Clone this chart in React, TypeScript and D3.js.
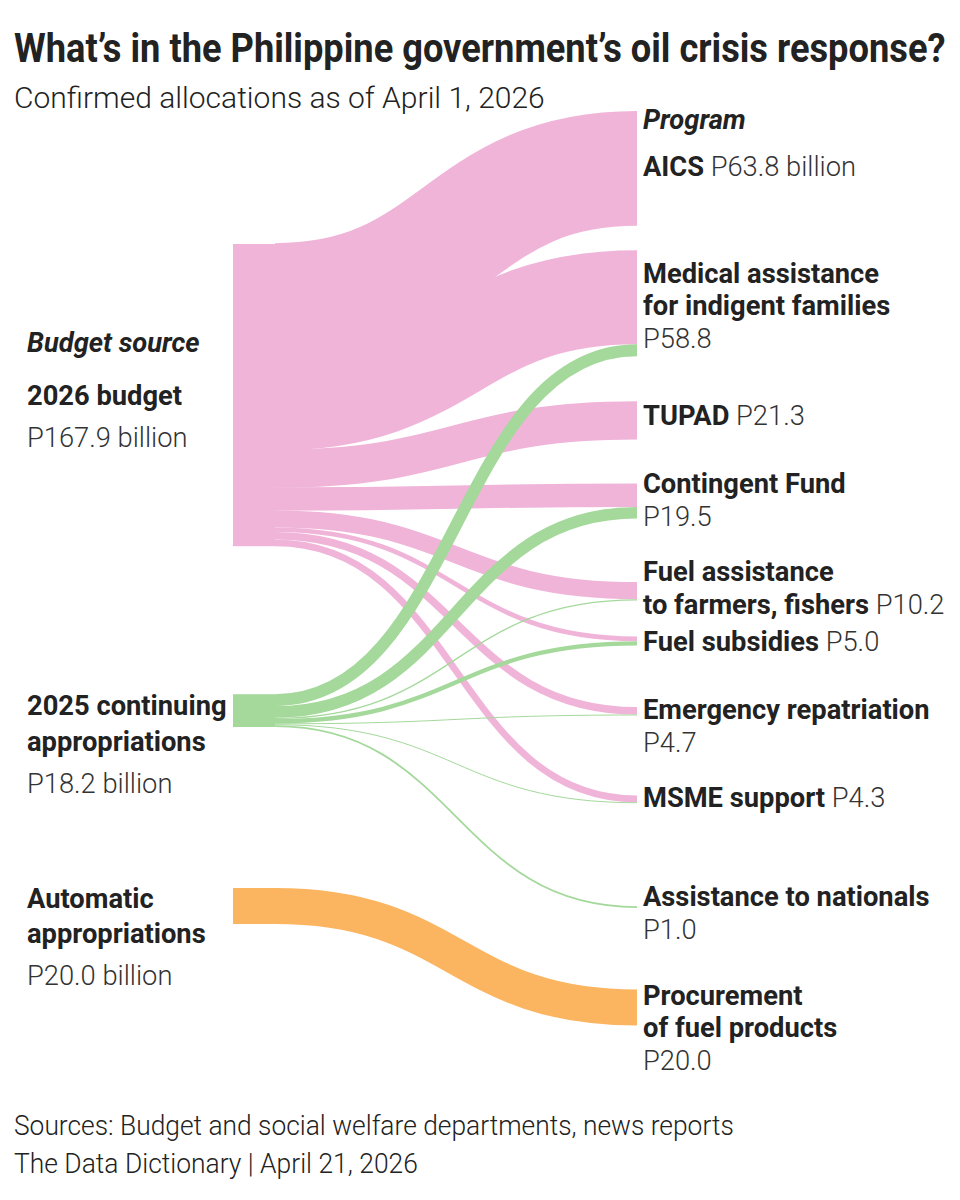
import React, { useLayoutEffect, useRef, useState } from "react";
import * as d3 from "d3";

// budget sources (left column)
const sources = ["2026 budget", "2025 continuing appropriations", "Automatic appropriations"];
const sourceValues = [167.9, 18.2, 20.0];
const sourceLines = [["2026 budget"], ["2025 continuing", "appropriations"], ["Automatic", "appropriations"]];

// programs (right column)
const programs = [
  "AICS",
  "Medical assistance for indigent families",
  "TUPAD",
  "Contingent Fund",
  "Fuel assistance to farmers, fishers",
  "Fuel subsidies",
  "Emergency repatriation",
  "MSME support",
  "Assistance to nationals",
  "Procurement of fuel products",
];
const programValues = [63.8, 58.8, 21.3, 19.5, 10.2, 5.0, 4.7, 4.3, 1.0, 20.0];
const programLines = [
  ["AICS"],
  ["Medical assistance", "for indigent families"],
  ["TUPAD"],
  ["Contingent Fund"],
  ["Fuel assistance", "to farmers, fishers"],
  ["Fuel subsidies"],
  ["Emergency repatriation"],
  ["MSME support"],
  ["Assistance to nationals"],
  ["Procurement", "of fuel products"],
];
// value printed on the last name line (true) or on its own line (false)
const valueInline = [true, false, true, false, true, true, false, true, false, false];

// flows, one array per source, indexed like programs
const from2026Budget = [63.8, 52.2, 21.3, 13.0, 9.5, 2.6, 4.2, 3.8, 0, 0];
const from2025Continuing = [0, 6.6, 0, 6.5, 0.7, 2.4, 0.5, 0.5, 1.0, 0];
const fromAutomatic = [0, 0, 0, 0, 0, 0, 0, 0, 0, 20.0];

const colors = ["#f0b4d9", "#a4d99b", "#fbb561"];
const INK = "#222";
const SOFT = "#333";
const FONT = "Roboto, 'Noto Sans', sans-serif";
const LABEL_SIZE = 27.3;

const W = 960;
const H = 1200;
const TOP = 110;
const NODE_X0 = 233;
const NODE_X1 = 275;
const TARGET_X = 637;
const LEFT_TEXT = 27;
const RIGHT_TEXT = 643;

// spacing before each node, stacked from TOP
const SOURCE_GAPS = [134, 148, 161];
const TARGET_GAPS = [1, 24.5, 45, 44, 63.5, 36, 61.5, 80, 103, 81.5];
// first label baseline relative to the node's middle
const SOURCE_DY = [10, 4.5, 2];
const TARGET_DY = [7.6, -20.6, 4.7, -7.7, -10.3, 9.7, 8.1, 8, -1, -2.5];

const thick = d3.scaleLinear().domain([0, 100]).range([0, 180]);

const fmt = (v: number) => `P${v.toFixed(1)}`;

function stack(values: number[], gaps: number[]) {
  let y = TOP;
  return values.map((v, i) => {
    const y0 = y + gaps[i];
    const y1 = y0 + thick(v);
    y = y1;
    return { y0, y1 };
  });
}

// text squeezed horizontally to a fixed width (stand-in for a condensed face)
function Narrow({ x, y, width, children, ...rest }: any) {
  const ref = useRef<SVGTextElement>(null);
  const [sx, setSx] = useState(1);
  useLayoutEffect(() => {
    if (!ref.current) return;
    const natural = ref.current.getComputedTextLength();
    if (natural > 0) setSx(width / natural);
  }, [width, children]);
  return (
    <text ref={ref} transform={`translate(${x},${y}) scale(${sx},1)`} {...rest}>
      {children}
    </text>
  );
}

export default function App() {
  const srcNodes = stack(sourceValues, SOURCE_GAPS);
  const tgtNodes = stack(programValues, TARGET_GAPS);
  const flows = [from2026Budget, from2025Continuing, fromAutomatic];

  // where each link sits at its target: stacked by source order
  const tgtOffset = programValues.map(() => 0);
  const links: { s: number; t: number; w: number; sy: number; ty: number }[] = [];
  flows.forEach((row, s) => {
    const out = d3.sum(row);
    const squeeze = Math.min(1, sourceValues[s] / out);
    let acc = 0;
    row.forEach((v, t) => {
      if (!v) return;
      const w = thick(v);
      const sy = srcNodes[s].y0 + (acc + w / 2) * squeeze;
      acc += w;
      const ty = tgtNodes[t].y0 + tgtOffset[t] + w / 2;
      tgtOffset[t] += w;
      links.push({ s, t, w, sy, ty });
    });
  });

  const linkPath = d3
    .linkHorizontal<any, [number, number]>()
    .source((d: any) => [NODE_X1, d.sy])
    .target((d: any) => [TARGET_X, d.ty]);

  return (
    <svg
      width={W}
      height={H}
      style={{ position: "absolute", left: 0, top: 0, background: "#fff" }}
      fontFamily={FONT}
    >
      <Narrow x={14} y={62} width={932} fontSize={40} fontWeight={700} fill={INK}>
        What’s in the Philippine government’s oil crisis response?
      </Narrow>
      <Narrow x={14} y={108} width={531} fontSize={30} fontWeight={300} fill={INK}>
        Confirmed allocations as of April 1, 2026
      </Narrow>

      <g>
        {links.map((l, i) => (
          <path
            key={i}
            d={linkPath(l as any) || ""}
            fill="none"
            stroke={colors[l.s]}
            strokeWidth={Math.max(1, l.w)}
          />
        ))}
      </g>

      <g>
        {srcNodes.map((n, i) => (
          <rect key={sources[i]} x={NODE_X0} y={n.y0} width={NODE_X1 - NODE_X0} height={n.y1 - n.y0} fill={colors[i]} />
        ))}
      </g>

      <text x={LEFT_TEXT} y={351.7} fontSize={LABEL_SIZE} fontWeight={700} fontStyle="italic" fill={INK}>
        Budget source
      </text>
      {srcNodes.map((n, i) => {
        const base = (n.y0 + n.y1) / 2 + SOURCE_DY[i];
        const lines = sourceLines[i];
        return (
          <g key={sources[i]}>
            {lines.map((line, j) => (
              <text key={j} x={LEFT_TEXT} y={base + j * 35.5} fontSize={LABEL_SIZE} fontWeight={700} fill={INK}>
                {line}
              </text>
            ))}
            <text
              x={LEFT_TEXT}
              y={base + (lines.length - 1) * 35.5 + 42}
              fontSize={LABEL_SIZE}
              fontWeight={300}
              fill={SOFT}
            >
              {fmt(sourceValues[i])} billion
            </text>
          </g>
        );
      })}

      <text x={RIGHT_TEXT} y={129} fontSize={LABEL_SIZE} fontWeight={700} fontStyle="italic" fill={INK}>
        Program
      </text>
      {tgtNodes.map((n, i) => {
        const base = (n.y0 + n.y1) / 2 + TARGET_DY[i];
        const lines = programLines[i];
        const value = fmt(programValues[i]) + (i === 0 ? " billion" : "");
        return (
          <g key={programs[i]}>
            {lines.map((line, j) => (
              <text key={j} x={RIGHT_TEXT} y={base + j * 32.5} fontSize={LABEL_SIZE} fill={INK}>
                <tspan fontWeight={700}>{line}</tspan>
                {valueInline[i] && j === lines.length - 1 ? (
                  <tspan fontWeight={300} fill={SOFT}>{" " + value}</tspan>
                ) : null}
              </text>
            ))}
            {!valueInline[i] ? (
              <text x={RIGHT_TEXT} y={base + lines.length * 32.5} fontSize={LABEL_SIZE} fontWeight={300} fill={SOFT}>
                {value}
              </text>
            ) : null}
          </g>
        );
      })}

      <Narrow x={14} y={1135} width={720} fontSize={27} fontWeight={300} fill={INK}>
        Sources: Budget and social welfare departments, news reports
      </Narrow>
      <Narrow x={14} y={1173} width={404} fontSize={27} fontWeight={300} fill={INK}>
        The Data Dictionary | April 21, 2026
      </Narrow>
    </svg>
  );
}
